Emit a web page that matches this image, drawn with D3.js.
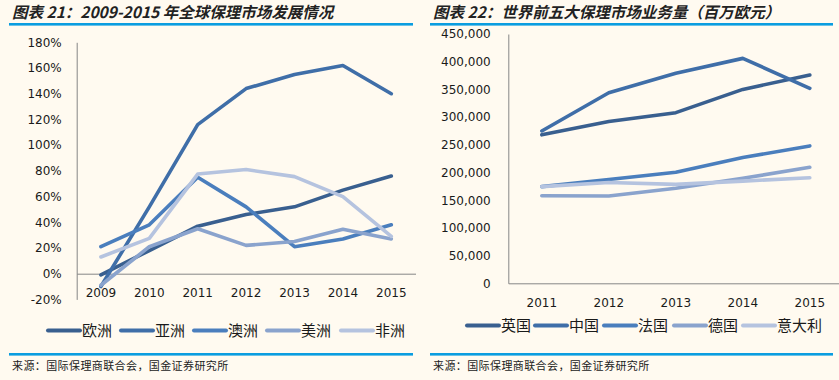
<!DOCTYPE html>
<html><head><meta charset="utf-8">
<script src="https://cdn.jsdelivr.net/npm/d3@7/dist/d3.min.js"></script>
<style>
html,body{margin:0;padding:0;background:#fffaf0;}
svg{display:block;}
</style></head>
<body>
<svg id="c" width="839" height="380"></svg>
<script>
// ---- Data ----
const years1 = ["2009","2010","2011","2012","2013","2014","2015"];
const regions = ["欧洲","亚洲","澳洲","美洲","非洲"];
const europe    = [-0.01, 0.18, 0.37, 0.46, 0.52, 0.65, 0.76];
const asia      = [-0.10, 0.52, 1.16, 1.44, 1.55, 1.62, 1.40];
const australia = [0.21, 0.38, 0.75, 0.52, 0.21, 0.27, 0.38];
const america   = [-0.09, 0.21, 0.35, 0.22, 0.25, 0.345, 0.27];
const africa    = [0.13, 0.275, 0.775, 0.81, 0.755, 0.60, 0.29];
const yTicks1 = [-0.2,0,0.2,0.4,0.6,0.8,1.0,1.2,1.4,1.6,1.8];

const years2 = ["2011","2012","2013","2014","2015"];
const countries = ["英国","中国","法国","德国","意大利"];
const uk      = [268000, 292000, 308000, 350000, 376000];
const china   = [275000, 344000, 379000, 406000, 352000];
const france  = [174500, 187500, 200500, 227000, 248000];
const germany = [158000, 157500, 171500, 189500, 209500];
const italy   = [174500, 182000, 178500, 184500, 190500];
const yTicks2 = [0,50000,100000,150000,200000,250000,300000,350000,400000,450000];

const colors = ["#395f8f","#3f6ea8","#4a7ebd","#8aa3cd","#b5c3df"];

const title1 = "图表 21：2009-2015 年全球保理市场发展情况";
const title2 = "图表 22：世界前五大保理市场业务量（百万欧元）";
const source = "来源：国际保理商联合会，国金证券研究所";

const svg = d3.select("#c");
const tickFont = "DejaVu Sans, Verdana, sans-serif";
const cjk = "'Noto Sans CJK SC', sans-serif";
const loc = d3.formatLocale({decimal: ".", thousands: ",", grouping: [3], currency: ["", ""], minus: "-", percent: "%"});

function header(x0, x1, title){
  svg.append("text").attr("x", x0+3).attr("y", 18)
    .attr("font-family", cjk).attr("font-size", 15.5).attr("font-style","italic")
    .attr("font-weight","bold").attr("fill","#222").text(title);
  svg.append("rect").attr("x", x0).attr("y", 23).attr("width", x1-x0).attr("height", 2.6).attr("fill","#0a9de0");
  svg.append("rect").attr("x", x0).attr("y", 353).attr("width", x1-x0).attr("height", 2.6).attr("fill","#0a9de0");
  svg.append("text").attr("x", x0+3).attr("y", 370)
    .attr("font-family", cjk).attr("font-size", 11).attr("letter-spacing", 0.4)
    .attr("fill","#222").text(source);
}
header(9, 413, title1);
header(430, 833, title2);

function chart(cfg){
  const x = d3.scaleBand().domain(cfg.cats).range(cfg.xr).padding(0);
  const y = d3.scaleLinear().domain(cfg.yd).range(cfg.yr);
  const g = svg.append("g");
  // y axis
  const ya = g.append("g").attr("transform", `translate(${cfg.xr[0]},0)`)
    .call(d3.axisLeft(y).tickValues(cfg.yTicks).tickSize(0).tickPadding(cfg.yPad).tickFormat(cfg.fmt));
  ya.select(".domain").attr("stroke","#868686").attr("stroke-width",1);
  ya.selectAll("text").attr("font-family", tickFont).attr("font-size", 12).attr("fill","#1a1a1a");
  // x axis line
  const xa = g.append("g").attr("transform", `translate(0,${y(0)})`)
    .call(d3.axisBottom(x).tickSize(0).tickPadding(0));
  xa.select(".domain").attr("stroke","#868686").attr("stroke-width",1);
  xa.selectAll("text").attr("font-family", tickFont).attr("font-size", 12).attr("fill","#1a1a1a")
    .attr("dy", null).attr("y", cfg.xLabY - y(0));
  // lines
  const line = d3.line().x((d,i)=>x(cfg.cats[i]) + x.bandwidth()/2).y(d=>y(d));
  cfg.series.forEach((s,i)=>{
    g.append("path").datum(s).attr("d", line).attr("fill","none")
      .attr("stroke", colors[i]).attr("stroke-width", 3.6)
      .attr("stroke-linejoin","round").attr("stroke-linecap","round");
  });
  // legend
  cfg.names.forEach((n,i)=>{
    const lx = cfg.legX[i];
    g.append("line").attr("x1", lx).attr("x2", lx+32).attr("y1", cfg.legY).attr("y2", cfg.legY)
      .attr("stroke", colors[i]).attr("stroke-width", 4).attr("stroke-linecap","round");
    g.append("text").attr("x", lx+34).attr("y", cfg.legY+5.5)
      .attr("font-family", cjk).attr("font-size", 15).attr("fill","#1a1a1a").text(n);
  });
}

chart({
  cats: years1, xr: [76.7, 415.5], yd: [-0.2, 1.8], yr: [299.4, 42.3],
  yTicks: yTicks1, fmt: loc.format(".0%"), yPad: 15, xLabY: 297.5,
  series: [europe, asia, australia, america, africa], names: regions,
  legX: [48, 121, 194, 267, 341], legY: 330.5
});
chart({
  cats: years2, xr: [508.3, 843.3], yd: [0, 450000], yr: [283.3, 34],
  yTicks: yTicks2, fmt: loc.format(","), yPad: 17.6, xLabY: 307.5,
  series: [uk, china, france, germany, italy], names: countries,
  legX: [467, 535, 604, 674, 743], legY: 325.5
});
</script>
</body></html>
